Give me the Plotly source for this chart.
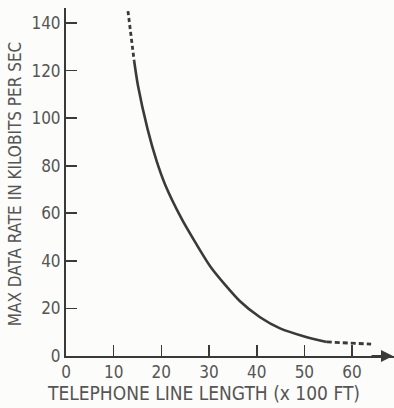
import plotly.graph_objects as go

# Data
solid_x = [14.3, 15.1, 17.1, 19.0, 20.8, 24.3, 27.0, 30.5, 36.5, 40.7, 44.9, 50.0, 54.7]
solid_y = [124.0, 113.6, 95.5, 82.0, 72.0, 57.5, 48.2, 37.0, 23.0, 16.3, 11.6, 8.2, 5.9]
top_dash_x = [13.0, 14.3]
top_dash_y = [145.0, 124.0]
tail_dash_x = [54.7, 64.0]
tail_dash_y = [5.9, 5.0]

x_ticks = [0, 10, 20, 30, 40, 50, 60]
y_ticks = [0, 20, 40, 60, 80, 100, 120, 140]

x_title = "TELEPHONE LINE LENGTH (x 100 FT)"
y_title = "MAX DATA RATE IN KILOBITS PER SEC"

FONT = "Liberation Sans Narrow, DejaVu Sans Condensed, Arial Narrow, sans-serif"
INK = "#3a3a3a"
TXT = "#555555"
BG = "#fcfcfa"

fig = go.Figure()
fig.add_trace(go.Scatter(x=solid_x, y=solid_y, mode="lines",
                         line=dict(color=INK, width=2.6, shape="spline", smoothing=0.7),
                         hoverinfo="skip"))
fig.add_trace(go.Scatter(x=top_dash_x, y=top_dash_y, mode="lines",
                         line=dict(color=INK, width=2.8, dash="4px,3px"),
                         hoverinfo="skip"))
fig.add_trace(go.Scatter(x=tail_dash_x, y=tail_dash_y, mode="lines",
                         line=dict(color=INK, width=2.8, dash="5px,3px"),
                         hoverinfo="skip"))

fig.add_annotation(xref="paper", yref="paper", x=1.0, y=0.0, ax=-24, ay=0,
                   showarrow=True, arrowhead=2, arrowsize=1.2, arrowwidth=2,
                   arrowcolor=INK, text="")

# axis titles as annotations (placed like the original)
fig.add_annotation(xref="paper", yref="paper", x=0.418, y=-0.106,
                   xanchor="center", yanchor="middle", showarrow=False,
                   text=x_title, font=dict(size=19, family=FONT, color=TXT))
fig.add_annotation(xref="paper", yref="paper", x=-0.155, y=0.494,
                   xanchor="center", yanchor="middle", showarrow=False, textangle=-90,
                   text=y_title, font=dict(size=17, family=FONT, color=TXT))

fig.update_layout(
    width=394, height=408,
    margin=dict(l=66, r=0, t=8, b=52),
    paper_bgcolor=BG, plot_bgcolor=BG,
    showlegend=False,
    font=dict(family=FONT, color=TXT, size=16),
)
fig.update_xaxes(
    range=[0, 68.8], tickvals=x_ticks, ticktext=[str(v) for v in x_ticks],
    ticks="inside", ticklen=11, tickwidth=1.6, tickcolor=INK,
    showline=True, linecolor=INK, linewidth=2, showgrid=False, zeroline=False,
    tickfont=dict(size=17, family=FONT, color=TXT),
)
fig.update_yaxes(
    range=[0, 146.3], tickvals=y_ticks, ticktext=[str(v) for v in y_ticks],
    ticks="inside", ticklen=11, tickwidth=1.6, tickcolor=INK,
    showline=True, linecolor=INK, linewidth=2, showgrid=False, zeroline=False,
    tickfont=dict(size=17, family=FONT, color=TXT),
)

fig.write_html(
    "out.html",
    config={"displayModeBar": False, "staticPlot": True},
    post_script="document.body.style.margin='0';document.body.style.overflow='hidden';"
                "document.body.style.background='" + BG + "';",
)
